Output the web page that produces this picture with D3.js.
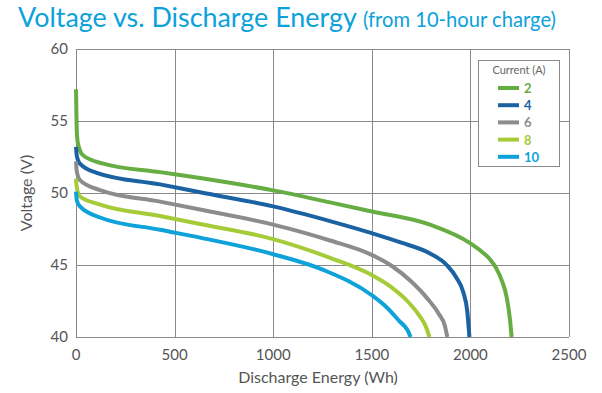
<!DOCTYPE html>
<html>
<head>
<meta charset="utf-8">
<script src="https://cdn.jsdelivr.net/npm/d3@7"></script>
<style>
  body { margin: 0; background: #fff; }
  text { font-family: Lato, "Open Sans", sans-serif; }
</style>
</head>
<body>
<script>
// values, [energy Wh, voltage V]
const currents = ["2", "4", "6", "8", "10"];
const colors = ["#66ad44", "#1b62a3", "#8c8c8c", "#a6cb38", "#0ea2da"];

const amp2 = [[0,57.2],[2,55.5],[5,54.0],[12,53.3],[37,52.6],[138,52.04],[426,51.45],[629,51.04],[1000,50.18],[1288,49.35],[1500,48.72],[1795,47.8],[1998,46.52],[2060,45.9],[2099,45.4],[2130,44.8],[2160,43.9],[2184,42.75],[2200,41.3],[2209,40]];
const amp4 = [[0,53.2],[4,52.6],[20,52.04],[105,51.4],[426,50.6],[629,50.05],[1000,49.07],[1288,48.05],[1500,47.21],[1650,46.55],[1795,45.8],[1880,45.0],[1930,44.1],[1964,43.1],[1984,41.8],[1995,40]];
const amp6 = [[0,52.2],[4,51.5],[20,50.9],[122,50.2],[426,49.4],[629,48.85],[1000,47.8],[1288,46.7],[1500,45.7],[1600,44.95],[1700,43.85],[1780,42.7],[1840,41.6],[1870,40.8],[1883,40]];
const amp8 = [[0,51.0],[4,50.4],[20,49.76],[122,49.2],[426,48.4],[629,47.85],[1000,46.8],[1288,45.5],[1500,44.3],[1600,43.45],[1680,42.5],[1740,41.5],[1775,40.7],[1792,40]];
const amp10 = [[0,50.1],[4,49.5],[20,49.07],[122,48.3],[426,47.45],[629,46.9],[1000,45.75],[1254,44.66],[1500,42.9],[1580,42.0],[1640,41.1],[1680,40.5],[1697,40]];
const series = [amp2, amp4, amp6, amp8, amp10];

const xTicks = [0, 500, 1000, 1500, 2000, 2500];
const yTicks = [40, 45, 50, 55, 60];

const W = 602, H = 393;
const svg = d3.select("body").append("svg")
    .attr("width", W)
    .attr("height", H);

const x = d3.scaleLinear().domain([0, 2500]).range([76, 569]);
const y = d3.scaleLinear().domain([40, 60]).range([337, 49]);

// title, sized to the widths seen in the picture
const t1 = svg.append("text")
    .attr("x", 18)
    .attr("y", 27)
    .attr("fill", "#0ba1dc")
    .attr("font-size", 24)
    .text("Voltage vs. Discharge Energy");
t1.attr("font-size", 24 * 339 / t1.node().getComputedTextLength());
const t2 = svg.append("text")
    .attr("x", 363)
    .attr("y", 27)
    .attr("fill", "#0ba1dc")
    .attr("font-size", 17)
    .text("(from 10-hour charge)");
t2.attr("font-size", 17 * 193 / t2.node().getComputedTextLength());

// grid
const grid = svg.append("g").attr("stroke", "#8a8a8a").attr("stroke-width", 1);
grid.selectAll(".gx").data(xTicks).enter().append("line")
    .attr("x1", d => Math.round(x(d)) + 0.5)
    .attr("x2", d => Math.round(x(d)) + 0.5)
    .attr("y1", y(60))
    .attr("y2", y(40));
grid.selectAll(".gy").data(yTicks).enter().append("line")
    .attr("x1", x(0))
    .attr("x2", x(2500))
    .attr("y1", d => Math.round(y(d)) + 0.5)
    .attr("y2", d => Math.round(y(d)) + 0.5);

// tick labels
svg.selectAll(".xl").data(xTicks).enter().append("text")
    .attr("x", d => x(d))
    .attr("y", 360)
    .attr("text-anchor", "middle")
    .attr("font-size", 15)
    .attr("fill", "#555")
    .text(d => d);
svg.selectAll(".yl").data(yTicks).enter().append("text")
    .attr("x", 68)
    .attr("y", d => y(d) + 5)
    .attr("text-anchor", "end")
    .attr("font-size", 15)
    .attr("fill", "#555")
    .text(d => d);

svg.append("text")
    .attr("x", 318)
    .attr("y", 383)
    .attr("text-anchor", "middle")
    .attr("font-size", 16)
    .attr("fill", "#555")
    .text("Discharge Energy (Wh)");
svg.append("text")
    .attr("transform", "translate(32,193) rotate(-90)")
    .attr("text-anchor", "middle")
    .attr("font-size", 16)
    .attr("fill", "#555")
    .text("Voltage (V)");

// curves
const line = d3.line()
    .x(d => x(d[0]))
    .y(d => y(d[1]))
    .curve(d3.curveMonotoneX);

svg.append("g").selectAll("path").data(series).enter().append("path")
    .attr("d", line)
    .attr("fill", "none")
    .attr("stroke", (d, i) => colors[i])
    .attr("stroke-width", 4);

// legend
const lg = svg.append("g");
lg.append("rect")
    .attr("x", 478.5)
    .attr("y", 60.5)
    .attr("width", 81)
    .attr("height", 106)
    .attr("fill", "#fff")
    .attr("stroke", "#8a8a8a");
lg.append("text")
    .attr("x", 519)
    .attr("y", 74)
    .attr("text-anchor", "middle")
    .attr("font-size", 11)
    .attr("fill", "#666")
    .text("Current (A)");
const items = lg.selectAll(".item").data(currents).enter().append("g")
    .attr("transform", (d, i) => `translate(0,${88 + i * 17.2})`);
items.append("line")
    .attr("x1", 498)
    .attr("x2", 519)
    .attr("stroke", (d, i) => colors[i])
    .attr("stroke-width", 4);
items.append("text")
    .attr("x", 524)
    .attr("y", 5)
    .attr("font-size", 13)
    .attr("font-weight", "bold")
    .attr("fill", (d, i) => colors[i])
    .text(d => d);
</script>
</body>
</html>
